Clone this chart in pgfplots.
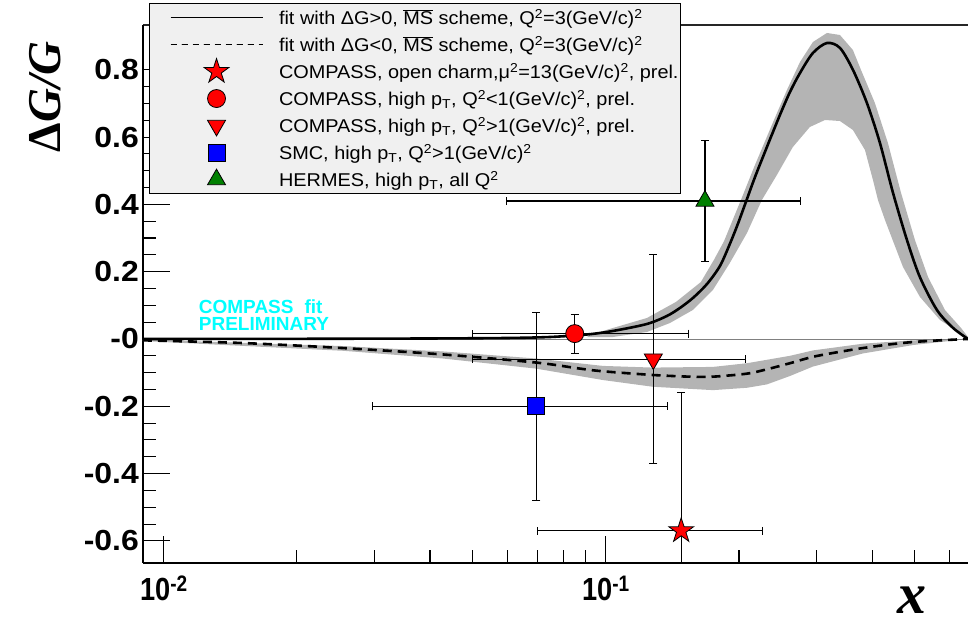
\documentclass[border=0pt]{standalone}
\usepackage{fontspec}
\setmainfont{Liberation Sans}
\newfontfamily\legfont[FakeStretch=1.075]{Liberation Sans}
\newfontfamily\yfont[FakeStretch=1.1]{Liberation Sans}
\newfontfamily\xfont[FakeStretch=0.85]{Liberation Sans}
\newfontfamily\serifbi{Liberation Serif}
\usepackage{pgfplots}
\pgfplotsset{compat=1.18}
\definecolor{bandgray}{RGB}{180,180,180}
\definecolor{leggray}{RGB}{240,240,240}
\definecolor{hgreen}{RGB}{0,128,0}
\definecolor{cyanr}{RGB}{0,255,255}
\definecolor{redr}{RGB}{255,0,0}
\definecolor{bluer}{RGB}{0,0,255}
\pgfdeclareplotmark{fstar}{%
  \pgfpathmoveto{\pgfpointpolar{90}{\pgfplotmarksize}}%
  \pgfpathlineto{\pgfpointpolar{126}{0.382\pgfplotmarksize}}%
  \pgfpathlineto{\pgfpointpolar{162}{\pgfplotmarksize}}%
  \pgfpathlineto{\pgfpointpolar{198}{0.382\pgfplotmarksize}}%
  \pgfpathlineto{\pgfpointpolar{234}{\pgfplotmarksize}}%
  \pgfpathlineto{\pgfpointpolar{270}{0.382\pgfplotmarksize}}%
  \pgfpathlineto{\pgfpointpolar{306}{\pgfplotmarksize}}%
  \pgfpathlineto{\pgfpointpolar{342}{0.382\pgfplotmarksize}}%
  \pgfpathlineto{\pgfpointpolar{18}{\pgfplotmarksize}}%
  \pgfpathlineto{\pgfpointpolar{54}{0.382\pgfplotmarksize}}%
  \pgfpathclose
  \pgfusepathqfillstroke
}
\pgfplotsset{
  ebars/.style={error bars/.cd, x dir=both, x explicit, y dir=both, y explicit,
    error bar style={black, line width=1.1pt},
    error mark options={rotate=90, black, mark size=4pt, line width=1.1pt}},
}
\begin{document}
\begin{tikzpicture}
\useasboundingbox (-143pt,-61pt) rectangle (827pt,563pt);
\draw[line width=1.5pt, black!85] (0pt,538pt) -- (825pt,538pt);
\begin{axis}[
  scale only axis, width=825pt, height=538pt,
  xmode=log, xmin=0.00897, xmax=0.6592,
  ymin=-0.6657, ymax=0.9331,
  axis x line*=bottom, axis y line*=left,
  axis line style={line width=1.6pt, -},
  tick align=inside,
  major tick length=27pt, minor tick length=13pt,
  every tick/.style={black, line width=1.1pt},
  xtick={0.01,0.1}, xticklabels={10\textsuperscript{-2},10\textsuperscript{-1}},
  minor xtick={0.02,0.03,0.04,0.05,0.06,0.07,0.08,0.09,0.2,0.3,0.4,0.5,0.6},
  ytick={-0.6,-0.4,-0.2,0,0.2,0.4,0.6,0.8},
  yticklabels={-0.6,-0.4,-0.2,-0,0.2,0.4,0.6,0.8},
  minor y tick num=3,
  yticklabel style={inner sep=0pt, xshift=-4pt, font=\yfont\fontsize{29}{30}\selectfont\bfseries},
  xticklabel style={inner sep=0pt, yshift=-13pt, font=\xfont\fontsize{32}{33}\selectfont\bfseries},
  xlabel={x}, ylabel={\textup{Δ}G/G},
  every axis x label/.style={at={(rel axis cs:0.932,-0.0688)}, anchor=center, font=\serifbi\fontsize{58}{60}\selectfont\bfseries\itshape},
  every axis y label/.style={at={(rel axis cs:-0.1188,0.866)}, anchor=center, rotate=90, font=\serifbi\fontsize{47}{50}\selectfont\bfseries\itshape},
  legend cell align=left,
  legend image code/.code={\path[draw=none, fill=none] (-19pt,-13.5pt) rectangle (92pt,13.5pt);
    \draw[mark repeat=2,mark phase=2,#1] plot coordinates {(0pt,0pt) (46pt,0pt) (92pt,0pt)};},
  legend style={at={(0.00727,1.0409)}, anchor=north west, fill=leggray, draw=black, line width=1.1pt,
    inner xsep=2pt, inner ysep=0.5pt, row sep=0pt, font=\legfont\fontsize{18.5}{20}\selectfont,
    nodes={inner sep=0pt, draw=none, fill=none}, /tikz/every odd column/.append style={column sep=16pt}},
]
% positive band
\addplot[fill=bandgray, draw=none, forget plot] coordinates {
(0.0920,0.0119) (0.1037,0.0327) (0.1238,0.0624) (0.1440,0.1100) (0.1640,0.1694) (0.1755,0.2351)
(0.1849,0.2900) (0.2020,0.4131) (0.2162,0.5100) (0.2400,0.6511) (0.2567,0.740) (0.2748,0.8232)
(0.2939,0.8826) (0.3162,0.9094) (0.3383,0.9034) (0.3620,0.8588) (0.3775,0.8000) (0.4060,0.7010)
(0.4345,0.5819) (0.4649,0.4351) (0.5001,0.2939) (0.5354,0.1840) (0.5848,0.0859) (0.6356,0.0330)
(0.6592,0.0059) (0.6592,0.0) (0.6323,0.0178) (0.5697,0.0565) (0.5133,0.1248) (0.4698,0.2140)
(0.4390,0.3150) (0.4278,0.3536) (0.4124,0.4131) (0.4018,0.4725) (0.3855,0.5617) (0.3620,0.6211)
(0.3383,0.6478) (0.3130,0.6508) (0.2893,0.6300) (0.2648,0.5706) (0.2436,0.4874) (0.2253,0.4131)
(0.2085,0.3150) (0.1907,0.2259) (0.1746,0.1456) (0.1573,0.0862) (0.1396,0.0475) (0.1238,0.0208)
(0.1037,0.0059) (0.0906,0.0059)} -- cycle;
% negative band
\addplot[fill=bandgray, draw=none, forget plot] coordinates {
(0.00897,-0.002) (0.02541,-0.021) (0.04278,-0.037) (0.06945,-0.058) (0.09845,-0.080) (0.1277,-0.085)
(0.1746,-0.083) (0.2085,-0.072) (0.2608,-0.050) (0.2939,-0.034) (0.3814,-0.014) (0.4950,-0.004)
(0.6592,0.0) (0.4950,-0.018) (0.3814,-0.043) (0.2939,-0.082) (0.2608,-0.110) (0.2313,-0.135)
(0.2085,-0.145) (0.1746,-0.152) (0.1277,-0.142) (0.09845,-0.122) (0.06945,-0.088) (0.04278,-0.058)
(0.02541,-0.035) (0.00897,-0.006)} -- cycle;
% zero line
\addplot[gray, line width=0.9pt, forget plot] coordinates {(0.00897,0) (0.6592,0)};
% fits
\addplot[black, line width=2.6pt, smooth, legend image post style={line width=1pt}] coordinates {
(0.00897,0.000) (0.02,0.0005) (0.04,0.0015) (0.06,0.003) (0.075,0.006) (0.0906,0.0134)
(0.1037,0.0238) (0.1238,0.0446) (0.1374,0.0684) (0.1470,0.0921) (0.1573,0.1218) (0.1693,0.1634)
(0.1811,0.2169) (0.1907,0.2823) (0.1988,0.3418) (0.2073,0.4071) (0.2174,0.4814) (0.2313,0.5706)
(0.2475,0.6657) (0.2608,0.7340) (0.2748,0.7905) (0.2939,0.8499) (0.3162,0.8796) (0.3383,0.865)
(0.3620,0.800) (0.3895,0.701) (0.4168,0.582) (0.4459,0.435) (0.4797,0.294) (0.5131,0.184)
(0.5609,0.086) (0.6097,0.033) (0.6592,0.000)};
\addlegendentry{fit with ΔG>0, \(\overline{\mbox{MS}}\) scheme, Q\textsuperscript{2}=3(GeV/c)\textsuperscript{2}}
\addplot[black, line width=2.6pt, smooth, dash pattern=on 9pt off 6pt, legend image post style={line width=1pt, dash pattern=on 6pt off 5pt}] coordinates {
(0.00897,-0.004) (0.01509,-0.012) (0.02541,-0.027) (0.04278,-0.046) (0.06945,-0.070) (0.08732,-0.088)
(0.09845,-0.096) (0.1277,-0.107) (0.1549,-0.112) (0.1746,-0.112) (0.2085,-0.103) (0.2313,-0.090)
(0.2608,-0.072) (0.2939,-0.053) (0.3383,-0.038) (0.3814,-0.027) (0.4390,-0.016) (0.4950,-0.009)
(0.5697,-0.004) (0.6592,0.0)};
\addlegendentry{fit with ΔG<0, \(\overline{\mbox{MS}}\) scheme, Q\textsuperscript{2}=3(GeV/c)\textsuperscript{2}}
% data points
\addplot[only marks, mark=fstar, mark size=13pt, mark options={fill=redr, draw=black, line width=0.8pt}, ebars]
  coordinates {(0.148,-0.57) += (0.078,0.41) -= (0.078,0.41)};
\addlegendentry{COMPASS, open charm,μ\textsuperscript{2}=13(GeV/c)\textsuperscript{2}, prel.}
\addplot[only marks, mark=*, mark size=9pt, mark options={fill=redr, draw=black, line width=0.8pt}, ebars]
  coordinates {(0.085,0.016) += (0.069,0.058) -= (0.0352,0.058)};
\addlegendentry{COMPASS, high p\textsubscript{T}, Q\textsuperscript{2}<1(GeV/c)\textsuperscript{2}, prel.}
\addplot[only marks, mark=triangle*, mark size=10.4pt, mark options={fill=redr, draw=black, line width=0.8pt, rotate=180}, ebars]
  coordinates {(0.128,-0.06) += (0.079,0.31) -= (0.0782,0.31)};
\addlegendentry{COMPASS, high p\textsubscript{T}, Q\textsuperscript{2}>1(GeV/c)\textsuperscript{2}, prel.}
\addplot[only marks, mark=square*, mark size=8.5pt, mark options={fill=bluer, draw=black, line width=0.8pt}, ebars]
  coordinates {(0.0696,-0.20) += (0.0684,0.28) -= (0.0399,0.28)};
\addlegendentry{SMC, high p\textsubscript{T}, Q\textsuperscript{2}>1(GeV/c)\textsuperscript{2}}
\addplot[only marks, mark=triangle*, mark size=10.4pt, mark options={fill=hgreen, draw=black, line width=0.8pt}, ebars]
  coordinates {(0.1675,0.41) += (0.1085,0.18) -= (0.1078,0.18)};
\addlegendentry{HERMES, high p\textsubscript{T}, all Q\textsuperscript{2}}
\node[anchor=base west, text=cyanr, font=\fontsize{19}{20}\selectfont\bfseries] at (rel axis cs:0.0635,0.4641) {COMPASS\hspace{0.3em} fit};
\node[anchor=base west, text=cyanr, font=\fontsize{19}{20}\selectfont\bfseries] at (rel axis cs:0.0635,0.4318) {PRELIMINARY};
\end{axis}
\end{tikzpicture}
\end{document}
